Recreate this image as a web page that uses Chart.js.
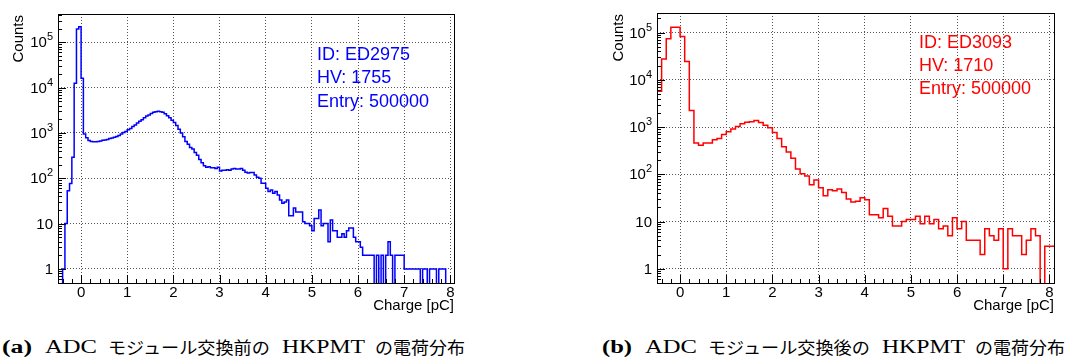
<!DOCTYPE html>
<html>
<head>
<meta charset="utf-8">
<script src="https://cdn.jsdelivr.net/npm/chart.js@4.4.0/dist/chart.umd.min.js"></script>
<style>
  body { margin: 0; background: #fff; }
  #page { position: relative; width: 1072px; height: 358px; overflow: hidden; background: #fff; }
  #page canvas { position: absolute; top: 0; }
  .seg {
    position: absolute; top: 336px; line-height: 22px; white-space: nowrap;
    font-family: "Liberation Serif", "Noto Sans CJK JP", serif; font-size: 18px; color: #000;
    transform-origin: 0 50%;
  }
  .seg.jp { font-family: "Noto Sans CJK JP", sans-serif; font-size: 17px; }
  .seg.bold { font-weight: bold; }
</style>
</head>
<body>
<div id="page">
  <canvas id="chartA" width="540" height="320" style="left:0"></canvas>
  <canvas id="chartB" width="472" height="320" style="left:600px"></canvas>
</div>
<script>
// Histogram (a): 0.05 pC bins starting at -0.5 pC
const binStartA = -0.5;
const binWidthA = 0.05;
const countsA = [
  0, 0, 0, 1, 10, 53, 77, 290, 12400, 196000,
  220000, 16000, 950, 780, 680, 650, 640, 640, 650, 660,
  690, 700, 720, 750, 770, 800, 830, 880, 950, 1020,
  1080, 1180, 1260, 1380, 1500, 1650, 1800, 1950, 2150, 2350,
  2500, 2700, 2850, 2950, 3000, 2950, 2850, 2650, 2400, 2150,
  1900, 1700, 1450, 1200, 1000, 820, 650, 560, 480, 440,
  370, 320, 260, 220, 190, 175, 180, 170, 170, 165,
  175, 145, 150, 150, 155, 150, 160, 165, 160, 160,
  165, 150, 135, 130, 134, 134, 118, 105, 100, 78,
  78, 60, 51, 55, 47, 51, 43, 33, 28, 30,
  33, 15, 15, 22, 18, 18, 18, 11, 10, 10,
  9, 7, 13, 13, 20, 9, 10, 10, 4, 12,
  7, 7, 5, 5, 6, 5, 7, 8, 8, 5,
  4, 4, 3, 2, 2, 2, 2, 2, 0, 2,
  0, 2, 0, 2, 4, 2, 0, 2, 2, 2,
  2, 1, 1, 1, 1, 1, 1, 1, 0, 1,
  1, 0, 1, 1, 1, 0, 1, 1, 1, 0,
  0, 0
];

// Histogram (b): 0.1 pC bins starting at -0.5 pC
const binStartB = -0.5;
const binWidthB = 0.1;
const countsB = [
  1700, 5700, 27500, 74000, 130000, 130000, 83000, 24500, 2250, 460,
  410, 460, 460, 540, 575, 700, 800, 910, 1030, 1170,
  1270, 1300, 1370, 1250, 1090, 970, 770, 575, 385, 295,
  220, 130, 103, 92, 60, 76, 52, 35, 47, 45,
  49, 41, 30, 26, 27, 32, 29, 14, 14, 12,
  19, 13, 8, 8, 10, 11, 11, 13, 9, 13,
  9, 11, 7, 8, 5, 12, 7, 10, 4, 4,
  4, 2, 7, 5, 4, 7, 1, 7, 5, 5,
  2, 4, 7, 5, 0, 3
];

// Axis ticks and labels
const xTickValues = [0, 1, 2, 3, 4, 5, 6, 7, 8];
const yTickValues = [1, 10, 100, 1000, 10000, 100000];
const yTickLabels = [['1', ''], ['10', ''], ['10', '2'], ['10', '3'], ['10', '4'], ['10', '5']];
const notesA = ['ID: ED2975', 'HV: 1755', 'Entry: 500000'];
const notesB = ['ID: ED3093', 'HV: 1710', 'Entry: 500000'];

// Captions, split in pieces: [text, class, left, width]
const captionA = [['(a)', 'bold', 2, 30], ['ADC', '', 45, 52], ['モジュール交換前の', 'jp', 108, 162],
  ['HKPMT', '', 282, 83], ['の電荷分布', 'jp', 375, 90]];
const captionB = [['(b)', 'bold', 602, 30], ['ADC', '', 645, 52], ['モジュール交換後の', 'jp', 708, 162],
  ['HKPMT', '', 882, 83], ['の電荷分布', 'jp', 975, 90]];

const FONT = '"Liberation Sans", Arial, sans-serif';
const ZERO_FLOOR = 0.01; // empty bins fall below the frame like ROOT does

// Turn bin contents into step points (left edges + closing right edge)
function histPoints(counts, start, width) {
  const pts = counts.map((c, i) => ({ x: start + i * width, y: c > 0 ? c : ZERO_FLOOR }));
  pts.push({ x: start + counts.length * width, y: pts[pts.length - 1].y });
  return pts;
}

// ROOT-like frame: inner ticks, frame box, labels, titles and text box
const rootAxes = {
  id: 'rootAxes',
  afterDraw(chart) {
    const { ctx, chartArea: a, scales: { x, y } } = chart;
    const o = chart.options.plugins.rootAxes;
    ctx.save();
    ctx.strokeStyle = '#000';
    ctx.lineWidth = 1;
    ctx.beginPath();
    // x ticks every 0.2, long at integers
    for (let i = Math.ceil(x.min / 0.2 - 1e-6); i * 0.2 <= x.max + 1e-6; i++) {
      const v = i * 0.2;
      const px = Math.round(x.getPixelForValue(v)) + 0.5;
      const len = Math.abs(v - Math.round(v)) < 1e-6 ? 8 : 4;
      ctx.moveTo(px, a.bottom);
      ctx.lineTo(px, a.bottom - len);
    }
    // y log ticks
    for (let d = -1; d <= 6; d++) {
      for (let m = 1; m <= 9; m++) {
        const v = m * Math.pow(10, d);
        if (v < y.min || v > y.max) continue;
        const py = Math.round(y.getPixelForValue(v)) + 0.5;
        ctx.moveTo(a.left, py);
        ctx.lineTo(a.left + (m === 1 ? 8 : 4), py);
      }
    }
    ctx.stroke();
    ctx.strokeRect(Math.round(a.left) + 0.5, Math.round(a.top) + 0.5,
      Math.round(a.right - a.left), Math.round(a.bottom - a.top));

    ctx.fillStyle = '#000';
    // x labels
    ctx.font = '15px ' + FONT;
    ctx.textAlign = 'center';
    ctx.textBaseline = 'middle';
    xTickValues.forEach(v => ctx.fillText(String(v), x.getPixelForValue(v), a.bottom + 10));
    // y labels with superscripts
    yTickValues.forEach((v, i) => {
      const py = y.getPixelForValue(v);
      const [base, sup] = yTickLabels[i];
      let right = a.left - 5;
      ctx.textAlign = 'right';
      if (sup) {
        ctx.font = '11px ' + FONT;
        ctx.fillText(sup, right, py - 5);
        right -= ctx.measureText(sup).width;
      }
      ctx.font = '15px ' + FONT;
      ctx.fillText(base, right, py + 1);
    });
    // axis titles
    ctx.font = '15px ' + FONT;
    ctx.textAlign = 'right';
    ctx.fillText('Charge [pC]', a.right, a.bottom + 23);
    ctx.save();
    ctx.translate(o.countsX, a.top + 1);
    ctx.rotate(-Math.PI / 2);
    ctx.fillText('Counts', 0, 0);
    ctx.restore();
    // text box
    ctx.fillStyle = o.color;
    ctx.font = '18px ' + FONT;
    ctx.textAlign = 'left';
    o.notes.forEach((t, i) => ctx.fillText(t, o.noteX, o.noteY[i]));
    ctx.restore();
  }
};

function makeHist(id, counts, start, width, opt) {
  return new Chart(document.getElementById(id), {
    type: 'line',
    data: {
      datasets: [{
        data: histPoints(counts, start, width),
        stepped: 'after',
        borderColor: opt.color,
        borderWidth: 1.5,
        pointRadius: 0,
        fill: false
      }]
    },
    options: {
      responsive: false,
      animation: false,
      devicePixelRatio: 1,
      layout: { padding: { top: opt.top, right: opt.right, left: 0, bottom: 0 } },
      plugins: {
        legend: { display: false },
        tooltip: { enabled: false },
        rootAxes: { color: opt.color, notes: opt.notes, noteX: opt.noteX, noteY: opt.noteY, countsX: 19 }
      },
      scales: {
        x: {
          type: 'linear',
          min: opt.xMin,
          max: opt.xMax,
          afterBuildTicks: s => { s.ticks = xTickValues.map(v => ({ value: v })); },
          afterFit: s => { s.height = 37; },
          ticks: { display: false },
          grid: { color: '#555', lineWidth: 1, drawTicks: false },
          border: { display: false, dash: [1, 2] }
        },
        y: {
          type: 'logarithmic',
          min: opt.yMin,
          max: opt.yMax,
          afterBuildTicks: s => { s.ticks = yTickValues.map(v => ({ value: v })); },
          afterFit: s => { s.width = opt.left; },
          ticks: { display: false },
          grid: { color: '#555', lineWidth: 1, drawTicks: false },
          border: { display: false, dash: [1, 2] }
        }
      }
    },
    plugins: [rootAxes]
  });
}

makeHist('chartA', countsA, binStartA, binWidthA, {
  color: '#0000ff', notes: notesA, noteX: 317, noteY: [55, 78.5, 102],
  top: 14, right: 86, left: 58,
  xMin: -0.5, xMax: 8.08, yMin: 0.49, yMax: 4.2e5
});

makeHist('chartB', countsB, binStartB, binWidthB, {
  color: '#ff0000', notes: notesB, noteX: 319, noteY: [42.7, 66, 89.3],
  top: 13, right: 18, left: 57,
  xMin: -0.5, xMax: 8.1, yMin: 0.5, yMax: 2.6e5
});

// captions: each piece stretched to the width it takes in the figure
const page = document.getElementById('page');
captionA.concat(captionB).forEach(([text, cls, left, w]) => {
  const el = document.createElement('span');
  el.className = 'seg ' + cls;
  el.textContent = text;
  el.style.left = left + 'px';
  page.appendChild(el);
  el.style.transform = 'scaleX(' + (w / el.offsetWidth).toFixed(3) + ')';
});
</script>
</body>
</html>
